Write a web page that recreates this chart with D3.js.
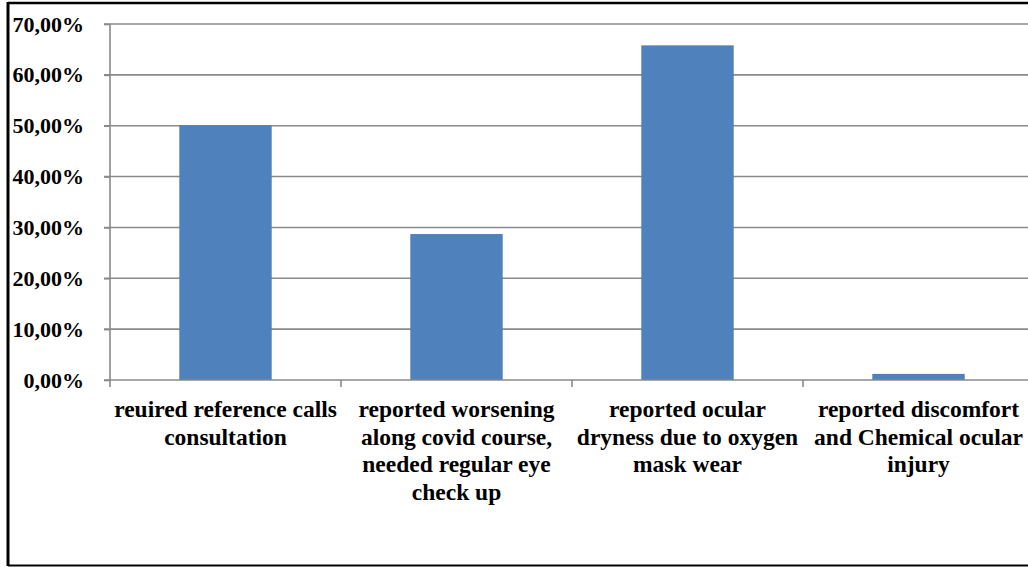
<!DOCTYPE html>
<html>
<head>
<meta charset="utf-8">
<script src="https://cdn.jsdelivr.net/npm/d3@7/dist/d3.min.js"></script>
<style>
  html, body { margin: 0; padding: 0; background: #fff; }
  svg { display: block; }
  text { font-family: "Liberation Serif", "Times New Roman", serif; font-weight: bold; fill: #000; }
</style>
</head>
<body>
<svg id="chart" width="1028" height="567"></svg>
<script>
// Share of patients per ocular finding (percent)
const categories = [
  "reuired reference calls consultation",
  "reported worsening along covid course, needed regular eye check up",
  "reported ocular dryness due to oxygen mask wear",
  "reported discomfort and Chemical ocular injury"
];
const categoryLines = [
  ["reuired reference calls", "consultation"],
  ["reported worsening", "along covid course,", "needed regular eye", "check up"],
  ["reported ocular", "dryness due to oxygen", "mask wear"],
  ["reported discomfort", "and Chemical ocular", "injury"]
];
const values = [50.1, 28.7, 65.8, 1.2];
const yTicks = [0, 10, 20, 30, 40, 50, 60, 70];

const svg = d3.select("#chart");
const W = 1028, H = 567;
const plotLeft = 110, plotTop = 24, plotBottom = 380;
const step = 231;

const x = d3.scaleBand()
  .domain(categories)
  .range([plotLeft, plotLeft + step * categories.length])
  .paddingInner(0.6)
  .paddingOuter(0.3);

const y = d3.scaleLinear().domain([0, 70]).range([plotBottom, plotTop]);

// outer frame
svg.append("line").attr("x1", 8).attr("x2", W).attr("y1", 3).attr("y2", 3)
  .attr("stroke", "#000").attr("stroke-width", 2.5);
svg.append("line").attr("x1", 8).attr("x2", 8).attr("y1", 2).attr("y2", 566)
  .attr("stroke", "#000").attr("stroke-width", 3);
svg.append("line").attr("x1", 8).attr("x2", W).attr("y1", 565.5).attr("y2", 565.5)
  .attr("stroke", "#000").attr("stroke-width", 2);

// horizontal gridlines
svg.append("g")
  .selectAll("line")
  .data(yTicks.filter(d => d > 0))
  .join("line")
  .attr("x1", plotLeft - 6).attr("x2", W)
  .attr("y1", d => y(d)).attr("y2", d => y(d))
  .attr("stroke", "#8a8a8a").attr("stroke-width", 1.6);

// bars
svg.append("g")
  .selectAll("rect")
  .data(values)
  .join("rect")
  .attr("x", (d, i) => x(categories[i]))
  .attr("width", x.bandwidth())
  .attr("y", d => y(d))
  .attr("height", d => y(0) - y(d))
  .attr("fill", "#4f81bd");

// y axis
const yAxis = d3.axisLeft(y)
  .tickValues(yTicks)
  .tickSize(6)
  .tickPadding(20)
  .tickFormat(d => d3.format(".2f")(d).replace(".", ",") + "%");
const gy = svg.append("g").attr("transform", `translate(${plotLeft},0)`).call(yAxis);
gy.select(".domain").attr("stroke", "#8a8a8a").attr("stroke-width", 1.6)
  .attr("d", `M0,${plotTop}V${plotBottom}`);
gy.selectAll(".tick line").attr("stroke", "#8a8a8a").attr("stroke-width", 1.6);
gy.selectAll(".tick text")
  .attr("font-size", 22)
  .attr("font-family", "Liberation Serif, Times New Roman, serif")
  .attr("font-weight", "bold")
  .attr("fill", "#000")
  .attr("x", -26);

// x axis baseline and category separators
svg.append("line").attr("x1", plotLeft - 6).attr("x2", W)
  .attr("y1", plotBottom).attr("y2", plotBottom)
  .attr("stroke", "#8a8a8a").attr("stroke-width", 1.6);
const bounds = categories.map(c => x(c) - x.step() * x.paddingOuter());
svg.append("g")
  .selectAll("line")
  .data(bounds)
  .join("line")
  .attr("x1", d => d).attr("x2", d => d)
  .attr("y1", plotBottom).attr("y2", plotBottom + 7)
  .attr("stroke", "#8a8a8a").attr("stroke-width", 1.6);

// category labels
const lab = svg.append("g")
  .selectAll("text")
  .data(categoryLines)
  .join("text")
  .attr("text-anchor", "middle")
  .attr("font-size", 23.5)
  .attr("transform", (d, i) => `translate(${x(categories[i]) + x.bandwidth() / 2},417)`);
lab.selectAll("tspan")
  .data(d => d)
  .join("tspan")
  .attr("x", 0)
  .attr("y", (d, i) => i * 27.5)
  .text(d => d);
</script>
</body>
</html>
